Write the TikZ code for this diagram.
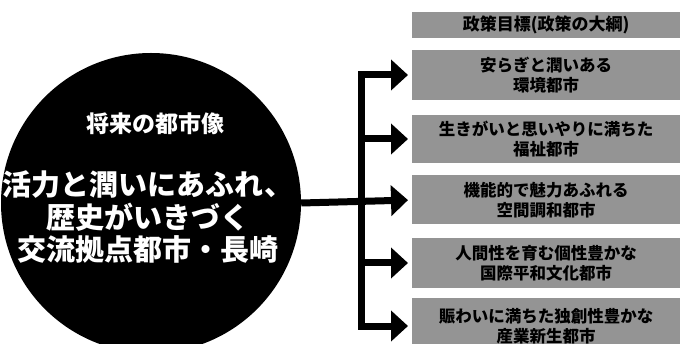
\documentclass[tikz,border=0pt]{standalone}
\usepackage{fontspec}
\setmainfont{Noto Sans CJK JP}
\usetikzlibrary{arrows.meta}
\tikzset{
  goalbox/.style={rectangle, fill=black!42, draw=none, anchor=west, inner sep=0pt,
    minimum width=268pt, align=center, text=black, font=\bfseries\fontsize{16.5}{20}\selectfont},
  conn/.style={line width=7pt, draw=black, line join=miter},
  tip/.style={-{Triangle[length=17pt,width=30pt]}, shorten >=4pt},
}
\begin{document}
\begin{tikzpicture}[x=1pt,y=-1pt]
\useasboundingbox (0,0) rectangle (682,344);
\clip (0,0) rectangle (682,344);
% circle
\node[circle, fill=black, minimum size=300pt, inner sep=0pt] (circ) at (151,203) {};
\node[text=white, font=\bfseries\fontsize{23}{24}\selectfont] (title) at (155,124) {将来の都市像};
\node[text=white, align=center, font=\bfseries\fontsize{29}{32.5}\selectfont] (vision) at (148,217)
  {活力と潤いにあふれ、\\歴史がいきづく\\交流拠点都市・長崎};
% boxes
\node[goalbox, minimum height=26pt, font=\bfseries\fontsize{17}{20}\selectfont] (head) at (412,25) {政策目標(政策の大綱)};
\node[goalbox, minimum height=50pt] (b1) at (412,75) {安らぎと潤いある\\環境都市};
\node[goalbox, minimum height=48pt] (b2) at (412,139) {生きがいと思いやりに満ちた\\福祉都市};
\node[goalbox, minimum height=49pt] (b3) at (412,200) {機能的で魅力あふれる\\空間調和都市};
\node[goalbox, minimum height=50pt] (b4) at (412,263) {人間性を育む個性豊かな\\国際平和文化都市};
\node[goalbox, minimum height=56pt] (b5) at (412,326) {賑わいに満ちた独創性豊かな\\産業新生都市};
% connectors
\coordinate (spine) at (361,0);
\draw[conn, {Triangle[length=17pt,width=30pt]}-{Triangle[length=17pt,width=30pt]}, shorten <=4pt, shorten >=4pt]
  (b1.west) -- (spine |- b1.west) -- (spine |- b5.west) -- (b5.west);
\draw[conn, tip] (circ.east) -- (b3.west);
\draw[conn, tip] (spine |- b2.west) -- (b2.west);
\draw[conn, tip] (spine |- b4.west) -- (b4.west);
\end{tikzpicture}
\end{document}
